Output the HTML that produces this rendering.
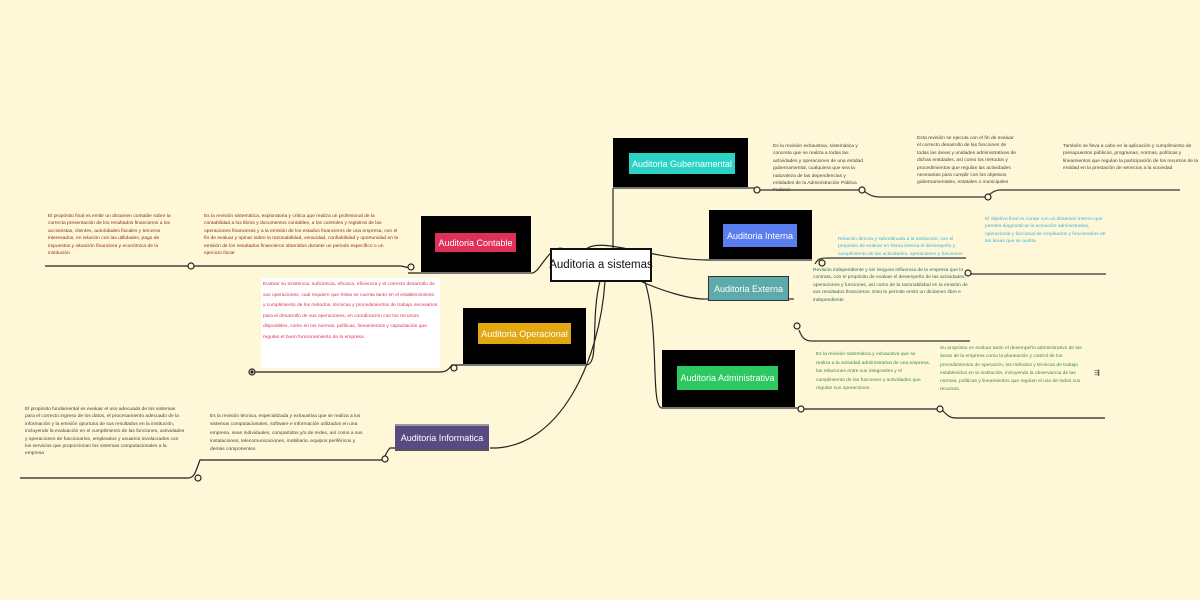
<!DOCTYPE html>
<html><head><meta charset="utf-8"><style>
body{margin:0;width:1200px;height:600px;background:#fff8d8;position:relative;overflow:hidden;font-family:"Liberation Sans",sans-serif}
.a{position:absolute}
.bk{position:absolute;background:#000;border-bottom:2px solid #777}
.in{position:absolute;color:#fff;font-size:9px;display:flex;align-items:center;justify-content:center;white-space:nowrap}
.t{position:absolute;font-size:4.9px;line-height:7.4px;color:#444}
</style></head><body>
<svg class="a" width="1200" height="600" style="left:0;top:0" fill="none" stroke="#222" stroke-width="1.2">
<path d="M613 188 V248"/>
<path d="M585 250 C600 235 650 260 709 260"/>
<path d="M640 281 C660 290 690 300 708 299"/>
<path d="M645 282 C660 330 650 408 662 408"/>
<path d="M566 250 C550 240 540 275 531 273"/>
<path d="M600 281 C590 320 600 365 586 365"/>
<path d="M605 281 C600 360 560 450 490 448"/>
<path d="M613 188 H755 M760 190 H860 C865 190 868 197 880 197 H985 C990 195 993 190 1000 190 H1180" stroke="#333"/>
<path d="M797 260 H780 M815 264 C818 258 822 258 830 258 H966 M970 274 H1106" stroke="#333"/>
<path d="M787 299 H794 M799 330 C802 338 805 341 812 341 H970" stroke="#333"/>
<path d="M421 273 H408 M408 267 C405 268 405 266 400 266 H45" stroke="#222"/>
<path d="M463 365 H452 C448 370 446 372 440 372 H254" stroke="#222"/>
<path d="M662 408 H798 M803 409 H938 M942 410 C948 416 950 418 956 418 H1105" stroke="#222"/>
<path d="M395 448 H390 C386 452 385 458 382 460 H200 C196 470 195 478 188 478 H20" stroke="#222"/>
<g fill="#fff8d8" stroke="#222" stroke-width="1.2">
<circle cx="757" cy="190" r="3"/><circle cx="862" cy="190" r="3"/><circle cx="988" cy="197" r="3"/>
<circle cx="822" cy="263" r="3"/><circle cx="968" cy="273" r="3"/><circle cx="797" cy="326" r="3"/>
<circle cx="411" cy="267" r="3"/><circle cx="191" cy="266" r="3"/><circle cx="454" cy="368" r="3"/><circle cx="252" cy="372" r="3"/>
<circle cx="801" cy="409" r="3"/><circle cx="940" cy="409" r="3"/><circle cx="385" cy="459" r="3"/><circle cx="198" cy="478" r="3"/>
</g>
<circle cx="252" cy="372" r="1" fill="#222"/>
</svg>
<div class="a" style="left:550px;top:248px;width:98px;height:30px;background:#fff;border:2px solid #111;font-size:11.5px;display:flex;align-items:center;justify-content:center;color:#111;white-space:nowrap">Auditoria a sistemas</div>

<div class="bk" style="left:613px;top:138px;width:135px;height:49px"></div>
<div class="in" style="left:629px;top:153px;width:106px;height:21px;background:#2ad4c4">Auditoria Gubernamental</div>
<div class="bk" style="left:709px;top:210px;width:103px;height:49px"></div>
<div class="in" style="left:723px;top:224px;width:74px;height:23px;background:#5a7ef0">Auditoria Interna</div>
<div class="in" style="left:708px;top:276px;width:79px;height:23px;background:#5eaaaa;border:1px solid #333">Auditoria Externa</div>
<div class="bk" style="left:421px;top:216px;width:110px;height:56px"></div>
<div class="in" style="left:435px;top:233px;width:81px;height:19px;background:#e0305a">Auditoria Contable</div>
<div class="bk" style="left:463px;top:308px;width:123px;height:56px"></div>
<div class="in" style="left:478px;top:323px;width:93px;height:21px;background:#e2a812">Auditoria Operacional</div>
<div class="bk" style="left:662px;top:350px;width:133px;height:57px"></div>
<div class="in" style="left:677px;top:366px;width:101px;height:24px;background:#2ec862">Auditoria Administrativa</div>
<div class="in" style="left:395px;top:424px;width:94px;height:23px;background:#5a4a82;border-top:2px solid #999;border-bottom:2px solid #555">Auditoria Informatica</div>

<div class="t" style="left:773px;top:143px;width:92px">Es la revisión exhaustiva, sistemática y concreta que se realiza a todas las actividades y operaciones de una entidad gubernamental, cualquiera que sea la naturaleza de las dependencias y entidades de la Administración Pública Federal</div>
<div class="t" style="left:917px;top:135px;width:100px">Esta revisión se ejecuta con el fin de evaluar el correcto desarrollo de las funciones de todas las áreas y unidades administrativas de dichas entidades, así como los métodos y procedimientos que regulan las actividades necesarias para cumplir con los objetivos gubernamentales, estatales o municipales</div>
<div class="t" style="left:1063px;top:143px;width:137px">También se lleva a cabo en la aplicación y cumplimiento de presupuestos públicos, programas, normas, políticas y lineamientos que regulan la participación de los recursos de la entidad en la prestación de servicios a la sociedad</div>
<div class="t" style="left:838px;top:236px;width:125px;color:#3cb0e0">Relación directa y subordinada a la institución, con el propósito de evaluar en forma interna el desempeño y cumplimiento de las actividades, operaciones y funciones</div>
<div class="t" style="left:985px;top:216px;width:122px;color:#3cb0e0">El objetivo final es contar con un dictamen interno que permita diagnosticar la actuación administrativa, operacional y funcional de empleados y funcionarios de las áreas que se audita</div>
<div class="t" style="left:813px;top:267px;width:160px;color:#2a6a5a">Revisión independiente y sin ninguna influencia de la empresa que lo contrata, con el propósito de evaluar el desempeño de las actividades, operaciones y funciones, así como de la razonabilidad en la emisión de sus resultados financieros. Esto le permite emitir un dictamen libre e independiente</div>
<div class="t" style="left:48px;top:213px;width:133px;color:#8a2a20">El propósito final es emitir un dictamen contable sobre la correcta presentación de los resultados financieros a los accionistas, clientes, autoridades fiscales y terceros interesados, en relación con las utilidades, pago de impuestos y situación financiera y económica de la institución</div>
<div class="t" style="left:204px;top:213px;width:195px;color:#8a2a20">Es la revisión sistemática, exploratoria y crítica que realiza un profesional de la contabilidad a los libros y documentos contables, a los controles y registros de las operaciones financieras y a la emisión de los estados financieros de una empresa, con el fin de evaluar y opinar sobre la razonabilidad, veracidad, confiabilidad y oportunidad en la emisión de los resultados financieros obtenidos durante un periodo específico o un ejercicio fiscal</div>
<div class="t" style="left:261px;top:278px;width:175px;height:86px;padding:2px;background:#fff;color:#e03050;line-height:10.5px">Evaluar su existencia, suficiencia, eficacia, eficiencia y el correcto desarrollo de sus operaciones, cual requiere que éstas se cuenta tanto en el establecimiento y cumplimiento de los métodos, técnicas y procedimientos de trabajo necesarios para el desarrollo de sus operaciones, en coordinación con los recursos disponibles, como en las normas, políticas, lineamientos y capacitación que regulan el buen funcionamiento de la empresa.</div>
<div class="t" style="left:816px;top:351px;width:115px;color:#3a8a4a;line-height:8.5px">Es la revisión sistemática y exhaustiva que se realiza a la actividad administrativa de una empresa, las relaciones entre sus integrantes y el cumplimiento de las funciones y actividades que regulan sus operaciones.</div>
<div class="t" style="left:940px;top:345px;width:150px;color:#3a8a4a;line-height:8.3px">Su propósito es evaluar tanto el desempeño administrativo de las áreas de la empresa como la planeación y control de los procedimientos de operación, los métodos y técnicas de trabajo establecidos en la institución, incluyendo la observancia de las normas, políticas y lineamientos que regulan el uso de todos sus recursos.</div>
<div class="a" style="left:1094px;top:369px;font-size:7px;color:#333">⇶</div>
<div class="t" style="left:210px;top:413px;width:160px;line-height:8.3px">Es la revisión técnica, especializada y exhaustiva que se realiza a los sistemas computacionales, software e información utilizados en una empresa, sean individuales, compartidos y/o de redes, así como a sus instalaciones, telecomunicaciones, mobiliario, equipos periféricos y demás componentes</div>
<div class="t" style="left:25px;top:406px;width:160px">El propósito fundamental es evaluar el uso adecuado de los sistemas para el correcto ingreso de los datos, el procesamiento adecuado de la información y la emisión oportuna de sus resultados en la institución, incluyendo la evaluación en el cumplimiento de las funciones, actividades y operaciones de funcionarios, empleados y usuarios involucrados con los servicios que proporcionan los sistemas computacionales a la empresa</div>
</body></html>
